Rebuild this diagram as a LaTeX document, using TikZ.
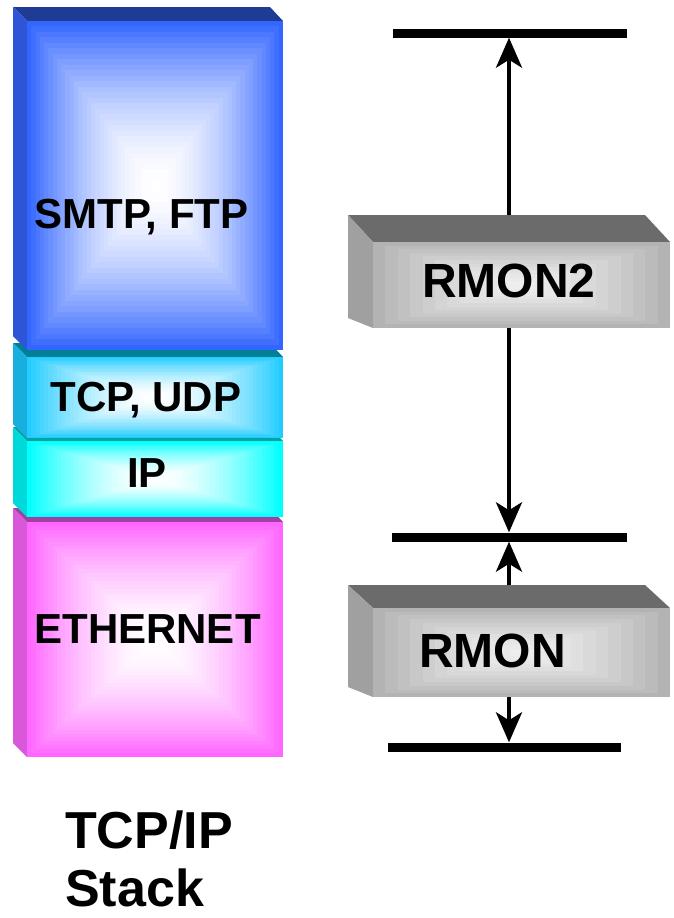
\documentclass[tikz,border=0pt]{standalone}
\usepackage{fontspec}
\setmainfont{Liberation Sans}
\usetikzlibrary{arrows.meta,calc}

\definecolor{smtpF}{HTML}{3366FF}
\definecolor{smtpT}{HTML}{1F3C94}
\definecolor{smtpS}{HTML}{2E55D6}
\definecolor{tcpF}{HTML}{22CCFF}
\definecolor{tcpT}{HTML}{007F96}
\definecolor{tcpS}{HTML}{18AEDD}
\definecolor{ipF}{HTML}{00FFFF}
\definecolor{ipT}{HTML}{00A3A3}
\definecolor{ipS}{HTML}{00D9D9}
\definecolor{ethF}{HTML}{FF66FF}
\definecolor{ethT}{HTML}{A040A0}
\definecolor{ethS}{HTML}{D957D9}
\definecolor{grayT}{HTML}{6B6B6B}
\definecolor{grayS}{HTML}{A0A0A0}
\definecolor{grayF}{HTML}{B3B3B3}
\definecolor{grayC}{HTML}{EEEEEE}

\tikzset{
    bar/.style={fill=black,inner sep=0pt,minimum height=9pt},
    arr/.style={line width=4pt,-{Stealth[length=30pt,width=26pt,inset=8pt]}},
    lab/.style={font=\fontsize{42}{50}\selectfont\bfseries,anchor=base,inner sep=0pt},
    biglab/.style={font=\fontsize{52}{64}\selectfont\bfseries,anchor=base west,inner sep=0pt},
}

\begin{document}
\begin{tikzpicture}[x=1pt,y=-1pt]
    \useasboundingbox (0,0) rectangle (674,918);
    % protocol stack, drawn from the bottom up
    \foreach \ya/\yb/\cf/\ct/\cs in {522/757/ethF/ethT/ethS,441/517/ipF/ipT/ipS,357/438/tcpF/tcpT/tcpS,21/350/smtpF/smtpT/smtpS}{
        \fill[\ct] (13,\ya-14) -- (270,\ya-14) -- (283,\ya) -- (27,\ya) -- cycle;
        \fill[\cs] (13,\ya-14) -- (27,\ya) -- (27,\yb) -- (13,\yb-14) -- cycle;
        \pgfmathsetmacro\cy{(\ya+\yb)/2}
        \pgfmathsetmacro\hh{(\yb-\ya)/2}
        \foreach \i in {0,...,29}{
            \pgfmathsetmacro\s{1-\i/30}
            \pgfmathtruncatemacro\p{100*\s^1.7}
            \fill[\cf!\p!white] ({155-128*\s},{\cy-\hh*\s}) rectangle ({155+128*\s},{\cy+\hh*\s});
        }
    }
    \node[lab] (smtp) at (141.5,228) {SMTP, FTP};
    \node[lab] (tcp) at (146,411) {TCP, UDP};
    \node[lab] (ip) at (147,487) {IP};
    \node[lab] (eth) at (147.5,643) {ETHERNET};
    \node[biglab] (tcpip) at (65,848) {TCP/IP};
    \node[biglab] (stack) at (65,906) {Stack};

    % probes and their ranges
    \node[bar,minimum width=234pt] (bartop) at (510,33) {};
    \node[bar,minimum width=235pt] (barmid) at (509.5,537) {};
    \node[bar,minimum width=233pt] (barbot) at (504.5,747) {};
    \coordinate (m2) at (509,285);
    \coordinate (m1) at (509,652);
    \draw[arr] (m2) -- (bartop.south -| m2);
    \draw[arr] (m2) -- (barmid.north -| m2);
    \draw[arr] (m1) -- (barmid.south -| m1);
    \draw[arr] (m1) -- (barbot.north -| m1);
    \foreach \ya/\yb/\d in {242/328/27,608/697/23}{
        \fill[grayT] (348,\ya-\d) -- (645,\ya-\d) -- (670,\ya) -- (373,\ya) -- cycle;
        \fill[grayS] (348,\ya-\d) -- (373,\ya) -- (373,\yb) -- (348,\yb-10) -- cycle;
        \pgfmathsetmacro\cy{(\ya+\yb)/2}
        \pgfmathsetmacro\hh{(\yb-\ya)/2}
        \foreach \i in {0,...,11}{
            \pgfmathsetmacro\s{1-\i/12}
            \pgfmathtruncatemacro\p{100*\s^1.5}
            \fill[grayF!\p!grayC] ({521.5-148.5*\s},{\cy-\hh*\s}) rectangle ({521.5+148.5*\s},{\cy+\hh*\s});
        }
    }
    \node[lab,font=\fontsize{48}{56}\selectfont\bfseries] (rmon2) at (509,297) {RMON2};
    \node[lab,font=\fontsize{48}{56}\selectfont\bfseries] (rmon) at (492.5,667) {RMON};
\end{tikzpicture}
\end{document}
